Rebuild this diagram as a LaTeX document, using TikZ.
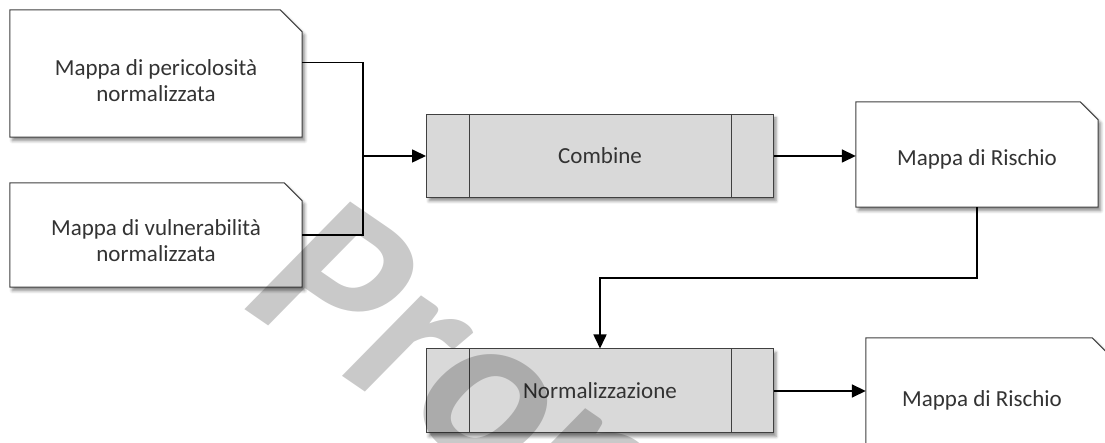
\documentclass[tikz,border=0pt]{standalone}
\usepackage{fontspec}
\setmainfont{Carlito}
\usetikzlibrary{arrows.meta,shadows.blur,backgrounds}

\tikzset{
  lbl/.style={font=\fontsize{23}{26}\selectfont, text=black!80, align=center, inner sep=0pt},
  docbox/.style={inner sep=0pt},
  docline/.style={draw=black!75, line width=1pt, fill=white,
    blur shadow={shadow xshift=2.5pt, shadow yshift=-3.5pt, shadow blur radius=3pt, shadow opacity=45}},
  procbox/.style={lbl, draw=black!75, line width=1pt, fill=black!15,
    minimum width=347pt, minimum height=83pt,
    blur shadow={shadow xshift=2.5pt, shadow yshift=-3.5pt, shadow blur radius=3pt, shadow opacity=45}},
  link/.style={draw=black, line width=1.6pt},
  arr/.style={link, -{Triangle[length=14pt,width=13pt]}},
  wmark/.style={font=\fontsize{100}{100}\selectfont\bfseries, text=black, text opacity=0.21, inner sep=0pt}
}

% document outline with a cut top-right corner
\newcommand\docoutline[2]{%
  \path[docline] (#1.south west) -- (#1.north west) -- ([xshift=-#2]#1.north east)
    -- ([yshift=-#2]#1.north east) -- (#1.south east) -- cycle;}

% process outline: two side bars inside the box
\newcommand\procbars[1]{%
  \draw[draw=black!75, line width=1pt] ([xshift=43pt]#1.north west) -- ([xshift=43pt]#1.south west);
  \draw[draw=black!75, line width=1pt] ([xshift=-43pt]#1.north east) -- ([xshift=-43pt]#1.south east);}

\begin{document}
\begin{tikzpicture}[x=1pt,y=1pt]
  \useasboundingbox (0,0) rectangle (1105,443);
  \clip (0,0) rectangle (1105,443);

  % input maps
  \node[docbox, minimum width=292pt, minimum height=127pt] (hz) at (156,369.5) {};
  \node[lbl] (hzt) at ([yshift=-7pt]hz.center) {Mappa di pericolosità\\normalizzata};
  \node[docbox, minimum width=292pt, minimum height=104pt] (vu) at (156,208) {};
  \node[lbl] (vut) at ([yshift=-6pt]vu.center) {Mappa di vulnerabilità\\normalizzata};

  % processes
  \node[procbox] (comb) at (600,287) {Combine};
  \procbars{comb}
  \node[procbox, minimum height=84pt] (norm) at (600,52) {Normalizzazione};
  \procbars{norm}

  % output maps
  \node[docbox, minimum width=242pt, minimum height=105pt] (ri1) at (977,288.5) {};
  \node[lbl] (ri1t) at ([yshift=-5pt]ri1.center) {Mappa di Rischio};
  \node[docbox, minimum width=244pt, minimum height=120pt] (ri2) at (988,45) {};
  \node[lbl] (ri2t) at ([xshift=-6pt, yshift=-2pt]ri2.center) {Mappa di Rischio};

  \begin{scope}[on background layer]
    \docoutline{hz}{22pt}
    \docoutline{vu}{18pt}
    \docoutline{ri1}{18pt}
    \docoutline{ri2}{18pt}
  \end{scope}

  % connectors
  \coordinate (jn) at (363,287);
  \draw[link] ([yshift=11pt]hz.east) -| (jn);
  \draw[link] (vu.east) -| (jn);
  \draw[arr] (jn) -- (comb.west);
  \draw[arr] (comb.east) -- (comb.east -| ri1.west);
  \draw[arr] (ri1.south) -- ++(0,-71) -| (norm.north);
  \draw[arr] (norm.east) -- (norm.east -| ri2.west);

  % watermark
  \begin{scope}[shift={(234,141)}, cm={1.85,-1.27,1.63,1.66,(0,0)}]
    \node[wmark, transform shape, anchor=base west] (wm) at (0,0) {Propr};
  \end{scope}
\end{tikzpicture}
\end{document}
